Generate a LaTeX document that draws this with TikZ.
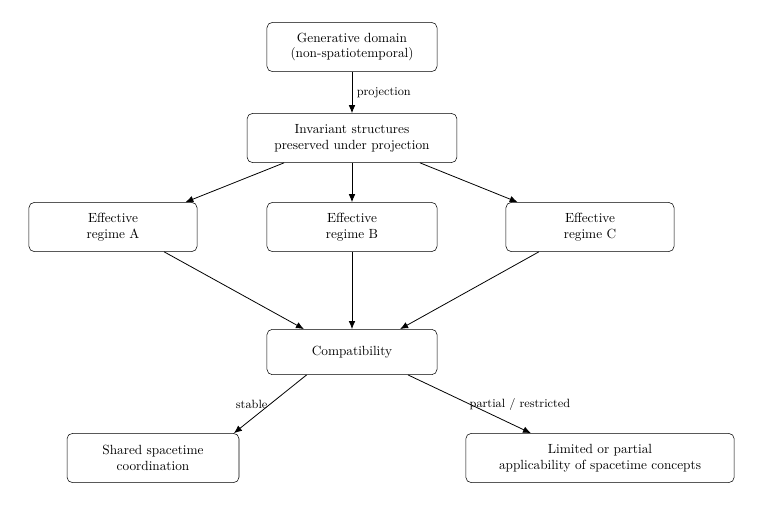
\documentclass[tikz,border=0pt]{standalone}
\usepackage{tikz}
\usetikzlibrary{arrows.meta}

\begin{document}
\begin{tikzpicture}[x=0.02646cm,y=-0.02646cm,
  box/.style={draw, rounded corners=4pt, align=center, inner sep=2pt, minimum height=1.3cm},
  flow/.style={draw, -{Latex[length=6pt,width=5pt]}, line width=0.6pt},
  lbl/.style={font=\small, inner sep=1pt}]
\useasboundingbox (0,0) rectangle (766,504);

\node[box, minimum width=4.5cm] (gen) at (352,47) {Generative domain\\(non-spatiotemporal)};
\node[box, minimum width=5.55cm] (inv) at (352,138) {Invariant structures\\preserved under projection};
\node[box, minimum width=4.45cm] (regA) at (113,227) {Effective\\regime A};
\node[box, minimum width=4.5cm] (regB) at (352,227) {Effective\\regime B};
\node[box, minimum width=4.45cm] (regC) at (590,227) {Effective\\regime C};
\node[box, minimum width=4.5cm, minimum height=1.2cm] (comp) at (352,352) {Compatibility};
\node[box, minimum width=4.55cm] (shared) at (153,458) {Shared spacetime\\coordination};
\node[box, minimum width=7.1cm] (limited) at (600,458) {Limited or partial\\applicability of spacetime concepts};

\draw[flow] (gen) -- node[right, font=\small] {projection} (inv);
\draw[flow] ([xshift=28pt]inv.south west) -- ([xshift=-9pt]regA.north east);
\draw[flow] (inv) -- (regB);
\draw[flow] ([xshift=-28pt]inv.south east) -- ([xshift=9pt]regC.north west);
\draw[flow] ([xshift=-25pt]regA.south east) -- ([xshift=28pt]comp.north west);
\draw[flow] (regB) -- (comp);
\draw[flow] ([xshift=25pt]regC.south west) -- ([xshift=-28pt]comp.north east);
\draw[flow] ([xshift=30pt]comp.south west) -- node[lbl, pos=0.5, xshift=-14pt] {stable} ([xshift=-4pt]shared.north east);
\draw[flow] ([xshift=-22pt]comp.south east) -- node[lbl, pos=0.5, xshift=38pt] {partial / restricted} ([xshift=-52pt]limited.north);
\end{tikzpicture}
\end{document}
